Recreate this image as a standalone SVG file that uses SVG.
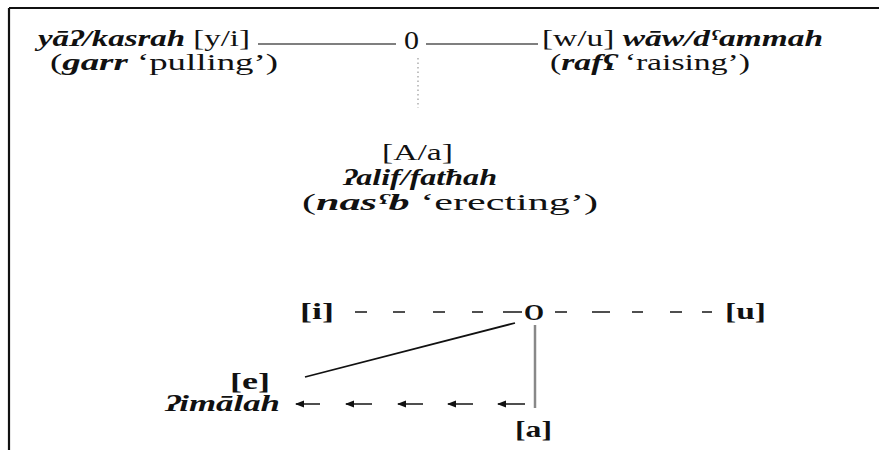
<svg xmlns="http://www.w3.org/2000/svg" width="879" height="450" viewBox="0 0 879 450">
<style>
text { font-family: "Liberation Serif", "DejaVu Serif", serif; font-size: 23px; fill: #111; }
.it { font-style: italic; font-weight: bold; }
.b { font-weight: bold; }
.thin { stroke: #555; stroke-width: 1.3; fill: none; }
.dash { stroke: #222; stroke-width: 1.6; fill: none; }
.dot { stroke: #999; stroke-width: 1.2; stroke-dasharray: 1.5 3; fill: none; }
</style>
<defs>
<marker id="ah" markerWidth="10" markerHeight="8" refX="8" refY="4" orient="auto" markerUnits="userSpaceOnUse">
<path d="M0,0.5 L9,4 L0,7.5 Z" fill="#111"/>
</marker>
</defs>
<rect x="0" y="0" width="879" height="450" fill="#fff"/>
<g id="frame">
<line x1="9" y1="8" x2="879" y2="8" stroke="#111" stroke-width="2.2"/>
<line x1="9" y1="8" x2="9" y2="450" stroke="#111" stroke-width="2.2"/>
</g>
<g id="connectors">
<line class="thin" x1="258" y1="44" x2="396" y2="44"/>
<line class="thin" x1="426" y1="44" x2="538" y2="44"/>
<line class="dot" x1="418" y1="58" x2="418" y2="108"/>
<line class="dash" x1="355" y1="312" x2="367" y2="312"/>
<line class="dash" x1="393" y1="312" x2="405" y2="312"/>
<line class="dash" x1="433" y1="312" x2="445" y2="312"/>
<line class="dash" x1="472" y1="312" x2="483" y2="312"/>
<line class="dash" x1="503" y1="312" x2="522" y2="312"/>
<line class="dash" x1="555" y1="312" x2="567" y2="312"/>
<line class="dash" x1="592" y1="312" x2="610" y2="312"/>
<line class="dash" x1="632" y1="312" x2="643" y2="312"/>
<line class="dash" x1="670" y1="312" x2="682" y2="312"/>
<line class="dash" x1="702" y1="312" x2="712" y2="312"/>
<line x1="515" y1="323" x2="305" y2="377" stroke="#111" stroke-width="1.8"/>
<line x1="535" y1="325" x2="535" y2="408" stroke="#888" stroke-width="2.5"/>
<line class="dash" x1="320" y1="404" x2="296" y2="404" marker-end="url(#ah)"/>
<line class="dash" x1="372" y1="404" x2="346" y2="404" marker-end="url(#ah)"/>
<line class="dash" x1="423" y1="404" x2="398" y2="404" marker-end="url(#ah)"/>
<line class="dash" x1="473" y1="404" x2="448" y2="404" marker-end="url(#ah)"/>
<line class="dash" x1="525" y1="404" x2="498" y2="404" marker-end="url(#ah)"/>
</g>
<g id="node-yaa">
<text x="38" y="46" textLength="212" lengthAdjust="spacingAndGlyphs"><tspan class="it">yāʔ/kasrah</tspan> [y/i]</text>
<text x="50" y="70" textLength="228" lengthAdjust="spacingAndGlyphs">(<tspan class="it">garr</tspan> ‘pulling’)</text>
</g>
<g id="node-zero">
<text x="404" y="49" style="font-size:25px" textLength="15" lengthAdjust="spacingAndGlyphs">0</text>
</g>
<g id="node-waw">
<text x="542" y="46" textLength="281" lengthAdjust="spacingAndGlyphs">[w/u] <tspan class="it">wāw/dˤammah</tspan></text>
<text x="550" y="70" textLength="200" lengthAdjust="spacingAndGlyphs">(<tspan class="it">rafʕ</tspan> ‘raising’)</text>
</g>
<g id="node-alif">
<text x="382" y="160" textLength="71" lengthAdjust="spacingAndGlyphs">[A/a]</text>
<text x="343" y="185" textLength="154" lengthAdjust="spacingAndGlyphs" class="it">ʔalif/fatħah</text>
<text x="302" y="210" textLength="296" lengthAdjust="spacingAndGlyphs">(<tspan class="it">nasˤb</tspan> ‘erecting’)</text>
</g>
<g id="node-i">
<text x="300" y="319" class="b" textLength="34" lengthAdjust="spacingAndGlyphs">[i]</text>
</g>
<g id="node-o">
<text x="524" y="320" class="b" style="font-size:24px" textLength="20" lengthAdjust="spacingAndGlyphs">O</text>
</g>
<g id="node-u">
<text x="725" y="319" class="b" textLength="41" lengthAdjust="spacingAndGlyphs">[u]</text>
</g>
<g id="node-e">
<text x="230" y="389" class="b" textLength="40" lengthAdjust="spacingAndGlyphs">[e]</text>
<text x="165" y="411" class="it" textLength="115" lengthAdjust="spacingAndGlyphs">ʔimālah</text>
</g>
<g id="node-a">
<text x="515" y="437" class="b" textLength="37" lengthAdjust="spacingAndGlyphs">[a]</text>
</g>
</svg>
